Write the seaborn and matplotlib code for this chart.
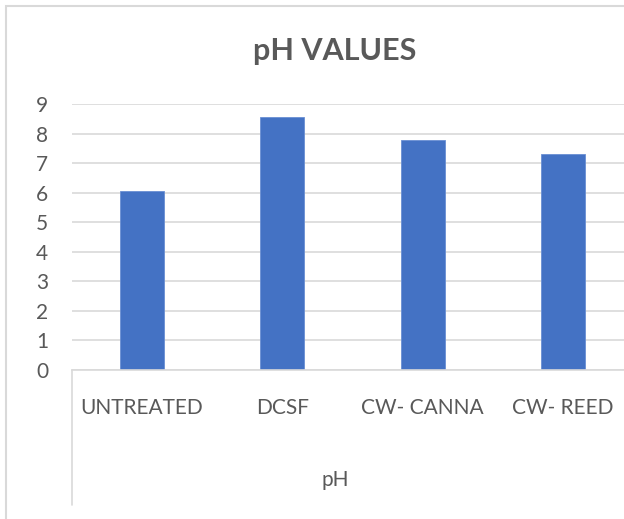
import matplotlib
matplotlib.use("Agg")
import matplotlib.pyplot as plt
import seaborn as sns
import pandas as pd
from matplotlib.patches import Rectangle

sns.set_style("white")
plt.rcParams['font.family'] = ['Lato', 'DejaVu Sans']

# data
categories = ['UNTREATED', 'DCSF', 'CW- CANNA', 'CW- REED']
ph_values = [6.07, 8.57, 7.78, 7.30]
group_label = 'pH'
title = 'pH VALUES'

df = pd.DataFrame({'treatment': categories, 'ph': ph_values})

text_col = '#595959'
grid_col = '#D9D9D9'

fig = plt.figure(figsize=(6.24, 5.19), dpi=100)

# chart border like excel (right/bottom edges are cropped off)
fig.patches.append(Rectangle((6 / 624, -0.1), 1.2, 1 - 6 / 519 + 0.1,
                             transform=fig.transFigure, fill=False,
                             edgecolor=grid_col, lw=1.5))

ax = fig.add_axes([72 / 624, (519 - 370) / 519, (633 - 72) / 624, (370 - 104) / 519])

sns.barplot(data=df, x='treatment', y='ph', color='#4472C4', width=0.314,
            edgecolor='#6A8FD3', linewidth=0.6, saturation=1, ax=ax)

ax.set_ylim(0, 9)
ax.set_yticks(range(0, 10))
ax.set_xlim(-0.5, 3.5)
ax.yaxis.grid(True, color=grid_col, lw=1.2)
ax.set_axisbelow(True)
for s in ['top', 'right', 'left']:
    ax.spines[s].set_visible(False)
ax.spines['bottom'].set_color(grid_col)
ax.spines['bottom'].set_linewidth(1.2)

ax.tick_params(axis='y', length=0, pad=17, labelsize=15, labelcolor=text_col)
ax.tick_params(axis='x', length=0, pad=20, labelsize=15, labelcolor=text_col)
ax.set_xlabel('')
ax.set_ylabel('')

# multi-level category separator + group label
ax.plot([0, 0], [0, -135 / 266], transform=ax.transAxes, color=grid_col,
        lw=1.2, clip_on=False)
fig.text(335 / 624, 1 - 480 / 519, group_label, ha='center', va='center',
         fontsize=15, color=text_col)

fig.text(335 / 624, 1 - 51 / 519, title, ha='center', va='center',
         fontsize=22, fontweight='bold', color=text_col)

fig.savefig('out.png', dpi=100)
